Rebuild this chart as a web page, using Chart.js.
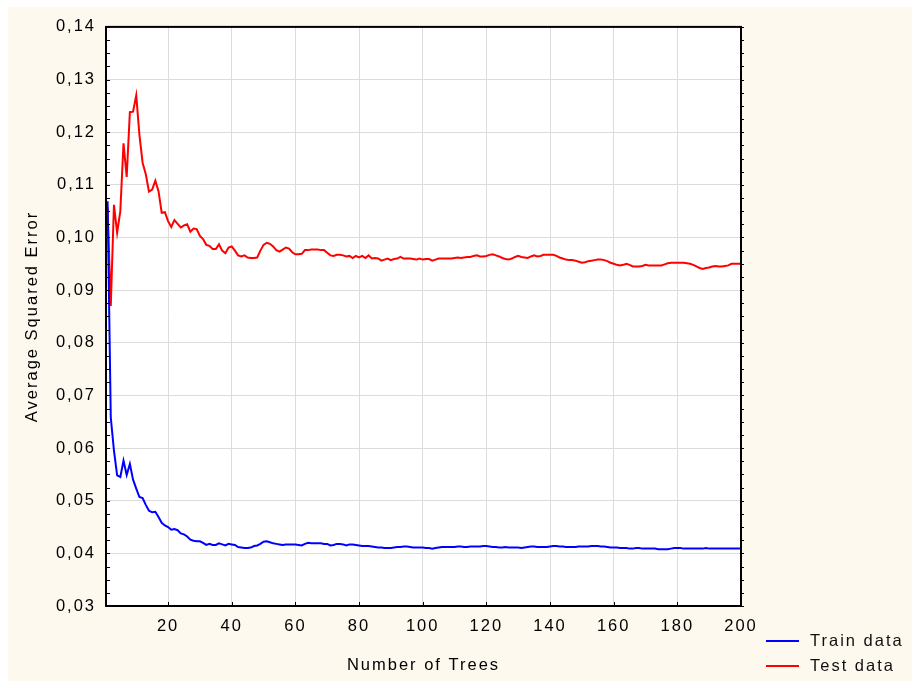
<!DOCTYPE html>
<html>
<head>
<meta charset="utf-8">
<script src="https://cdn.jsdelivr.net/npm/chart.js@4/dist/chart.umd.min.js"></script>
<style>
  html, body { margin: 0; padding: 0; background: #ffffff; }
  #panel { position: absolute; left: 8px; top: 7px; width: 904px; height: 674px; background: #fdf9ef; }
  canvas { display: block; }
</style>
</head>
<body>
<div id="panel"><canvas id="chart" width="904" height="674"></canvas></div>
<script>
// Ensemble size (number of trees) along the x axis
const treeCount = 200;
const trees = Array.from({ length: treeCount }, (_, i) => i + 1);

// Average squared error on the training sample
const trainError = [
  0.1069, 0.0658, 0.0595, 0.0548, 0.0545, 0.0576, 0.0549, 0.0570, 0.0540, 0.0523,
  0.0507, 0.0505, 0.0492, 0.0481, 0.0478, 0.0479, 0.0469, 0.0458, 0.0453, 0.0450,
  0.0445, 0.0446, 0.0444, 0.0438, 0.0436, 0.0432, 0.0426, 0.0424, 0.0423, 0.0423,
  0.0420, 0.0416, 0.0418, 0.0416, 0.0416, 0.0419, 0.0417, 0.0415, 0.0418, 0.0417,
  0.0416, 0.0412, 0.0411, 0.0410, 0.0410, 0.0411, 0.0414, 0.0415, 0.0418, 0.0422,
  0.0423, 0.0421, 0.0419, 0.0418, 0.0417, 0.0416, 0.0417, 0.0417, 0.0417, 0.0417,
  0.0416, 0.0415, 0.0418, 0.0420, 0.0419, 0.0419, 0.0419, 0.0419, 0.0418, 0.0418,
  0.0415, 0.0416, 0.0418, 0.0418, 0.0417, 0.0415, 0.0417, 0.0417, 0.0416, 0.0415,
  0.0414, 0.0414, 0.0414, 0.0413, 0.0412, 0.0411, 0.0411, 0.0410, 0.0410, 0.0410,
  0.0411, 0.0412, 0.0412, 0.0413, 0.0413, 0.0412, 0.0411, 0.0411, 0.0411, 0.0411,
  0.0410, 0.0410, 0.0409, 0.0410, 0.0411, 0.0412, 0.0412, 0.0412, 0.0412, 0.0412,
  0.0413, 0.0413, 0.0412, 0.0412, 0.0413, 0.0413, 0.0413, 0.0413, 0.0414, 0.0414,
  0.0413, 0.0412, 0.0412, 0.0411, 0.0411, 0.0412, 0.0411, 0.0411, 0.0411, 0.0411,
  0.0410, 0.0411, 0.0412, 0.0413, 0.0413, 0.0412, 0.0412, 0.0412, 0.0412, 0.0413,
  0.0414, 0.0414, 0.0413, 0.0413, 0.0412, 0.0412, 0.0412, 0.0412, 0.0413, 0.0413,
  0.0413, 0.0413, 0.0414, 0.0414, 0.0414, 0.0413, 0.0413, 0.0412, 0.0411, 0.0411,
  0.0411, 0.0410, 0.0410, 0.0410, 0.0409, 0.0409, 0.0410, 0.0410, 0.0409, 0.0409,
  0.0409, 0.0409, 0.0409, 0.0408, 0.0408, 0.0408, 0.0408, 0.0409, 0.0410, 0.0410,
  0.0410, 0.0409, 0.0409, 0.0409, 0.0409, 0.0409, 0.0409, 0.0409, 0.0410, 0.0409,
  0.0409, 0.0409, 0.0409, 0.0409, 0.0409, 0.0409, 0.0409, 0.0409, 0.0409, 0.0409
];

// Average squared error on the test sample
const testError = [
  0.1057, 0.0870, 0.1062, 0.1009, 0.1050, 0.1179, 0.1115, 0.1238, 0.1239, 0.1270,
  0.1195, 0.1142, 0.1120, 0.1087, 0.1091, 0.1108, 0.1088, 0.1047, 0.1048, 0.1031,
  0.1020, 0.1033, 0.1026, 0.1019, 0.1023, 0.1025, 0.1011, 0.1017, 0.1016, 0.1003,
  0.0997, 0.0986, 0.0984, 0.0978, 0.0978, 0.0987, 0.0975, 0.0970, 0.0981, 0.0983,
  0.0975, 0.0966, 0.0964, 0.0966, 0.0962, 0.0961, 0.0961, 0.0962, 0.0975, 0.0986,
  0.0990, 0.0988, 0.0983, 0.0976, 0.0973, 0.0977, 0.0981, 0.0979, 0.0972, 0.0968,
  0.0968, 0.0969, 0.0976, 0.0976, 0.0977, 0.0977, 0.0977, 0.0976, 0.0976, 0.0971,
  0.0966, 0.0965, 0.0967, 0.0967, 0.0966, 0.0964, 0.0965, 0.0961, 0.0965, 0.0962,
  0.0965, 0.0961, 0.0966, 0.0960, 0.0961, 0.0960, 0.0956, 0.0958, 0.0960, 0.0957,
  0.0959, 0.0960, 0.0963, 0.0960, 0.0960, 0.0960, 0.0959, 0.0958, 0.0960, 0.0958,
  0.0959, 0.0959, 0.0956, 0.0958, 0.0960, 0.0960, 0.0960, 0.0960, 0.0960, 0.0961,
  0.0962, 0.0961, 0.0962, 0.0963, 0.0963, 0.0965, 0.0966, 0.0964, 0.0964, 0.0965,
  0.0967, 0.0968, 0.0966, 0.0964, 0.0961, 0.0959, 0.0958, 0.0960, 0.0963, 0.0965,
  0.0963, 0.0962, 0.0961, 0.0964, 0.0966, 0.0964, 0.0965, 0.0967, 0.0967, 0.0967,
  0.0967, 0.0965, 0.0962, 0.0960, 0.0958, 0.0957, 0.0957, 0.0956, 0.0954, 0.0952,
  0.0953, 0.0955, 0.0956, 0.0957, 0.0958, 0.0958, 0.0957, 0.0955, 0.0952, 0.0950,
  0.0948, 0.0947, 0.0948, 0.0950, 0.0948, 0.0945, 0.0945, 0.0945, 0.0946, 0.0948,
  0.0947, 0.0947, 0.0947, 0.0947, 0.0947, 0.0949, 0.0951, 0.0952, 0.0952, 0.0952,
  0.0952, 0.0952, 0.0951, 0.0950, 0.0948, 0.0945, 0.0942, 0.0940, 0.0942, 0.0943,
  0.0945, 0.0946, 0.0945, 0.0945, 0.0946, 0.0947, 0.0950, 0.0950, 0.0950, 0.0950
];

// Axis tick values
const xTicks = [20, 40, 60, 80, 100, 120, 140, 160, 180, 200];
const yTicks = [0.03, 0.04, 0.05, 0.06, 0.07, 0.08, 0.09, 0.10, 0.11, 0.12, 0.13, 0.14];

const seriesNames = ['Train data', 'Test data'];
const seriesColors = ['#0000ff', '#ff0000'];

const FONT = 'Liberation Sans, Arial, sans-serif';
const FONT_SIZE = 16.5;
const SPACING = '2px';
const fmt = v => v.toFixed(2).replace('.', ',');

// wide letter spacing for all chart text
const textSpacing = {
  id: 'textSpacing',
  beforeUpdate(chart) { chart.ctx.letterSpacing = SPACING; },
  beforeDraw(chart) { chart.ctx.letterSpacing = SPACING; }
};

// white plotting area on the cream panel
const plotBackground = {
  id: 'plotBackground',
  beforeDraw(chart) {
    const { ctx, chartArea: a } = chart;
    ctx.save();
    ctx.fillStyle = '#ffffff';
    ctx.fillRect(a.left, a.top, a.right - a.left, a.bottom - a.top);
    ctx.restore();
  }
};

// black frame, minor ticks and legend
const frameAndLegend = {
  id: 'frameAndLegend',
  afterDraw(chart) {
    const { ctx, chartArea: a } = chart;
    const ys = chart.scales.y, xs = chart.scales.x;
    ctx.save();
    ctx.strokeStyle = '#000000';
    ctx.lineWidth = 1;
    ctx.beginPath();
    for (let k = 0; k <= 44; k++) {
      const py = Math.round(ys.getPixelForValue(0.03 + k * 0.0025)) + 0.5;
      ctx.moveTo(a.left, py); ctx.lineTo(a.left + 4, py);
      ctx.moveTo(a.right, py); ctx.lineTo(a.right + 3, py);
    }
    xTicks.forEach(v => {
      const px = Math.round(xs.getPixelForValue(v)) + 0.5;
      ctx.moveTo(px, a.bottom); ctx.lineTo(px, a.bottom - 4);
    });
    ctx.stroke();

    ctx.lineWidth = 2;
    ctx.strokeRect(a.left, a.top, a.right - a.left, a.bottom - a.top);

    // legend
    ctx.letterSpacing = SPACING;
    ctx.font = FONT_SIZE + 'px ' + FONT;
    ctx.textBaseline = 'middle';
    ctx.textAlign = 'left';
    chart.data.datasets.forEach((ds, i) => {
      const y = a.bottom + 35 + i * 25;
      ctx.strokeStyle = ds.borderColor;
      ctx.lineWidth = 2;
      ctx.beginPath();
      ctx.moveTo(a.right + 25, y);
      ctx.lineTo(a.right + 58, y);
      ctx.stroke();
      ctx.fillStyle = '#111111';
      ctx.fillText(ds.label, a.right + 69, y);
    });
    ctx.restore();
  }
};

new Chart(document.getElementById('chart'), {
  type: 'line',
  data: {
    datasets: [
      { label: seriesNames[0], data: trees.map((t, i) => ({ x: t, y: trainError[i] })),
        borderColor: seriesColors[0], borderWidth: 2, pointRadius: 0, tension: 0, fill: false },
      { label: seriesNames[1], data: trees.map((t, i) => ({ x: t, y: testError[i] })),
        borderColor: seriesColors[1], borderWidth: 2, pointRadius: 0, tension: 0, fill: false }
    ]
  },
  options: {
    responsive: false,
    animation: false,
    layout: { padding: { left: 10, top: 18, right: 171, bottom: 0 } },
    plugins: { legend: { display: false }, tooltip: { enabled: false } },
    scales: {
      x: {
        type: 'linear',
        min: 0.5,
        max: 200,
        afterBuildTicks: s => { s.ticks = xTicks.map(v => ({ value: v })); },
        afterFit: s => { s.height = 75; },
        border: { display: false },
        grid: { color: '#dcdcdc', lineWidth: 1, drawTicks: false },
        ticks: { color: '#000000', font: { family: FONT, size: FONT_SIZE }, padding: 11, maxRotation: 0, autoSkip: false },
        title: { display: true, text: 'Number of Trees', color: '#000000',
                 font: { family: FONT, size: FONT_SIZE }, padding: { top: 0, bottom: 6 } }
      },
      y: {
        min: 0.03,
        max: 0.14,
        afterBuildTicks: s => { s.ticks = yTicks.map(v => ({ value: v })); },
        afterFit: s => { s.width = 88; },
        border: { display: false },
        grid: { color: '#dcdcdc', lineWidth: 1, drawTicks: false },
        ticks: { color: '#000000', font: { family: FONT, size: FONT_SIZE }, padding: 10, callback: v => fmt(v) },
        title: { display: true, text: 'Average Squared Error', color: '#000000',
                 font: { family: FONT, size: FONT_SIZE }, padding: { top: 5, bottom: 0 } }
      }
    }
  },
  plugins: [textSpacing, plotBackground, frameAndLegend]
});
</script>
</body>
</html>
